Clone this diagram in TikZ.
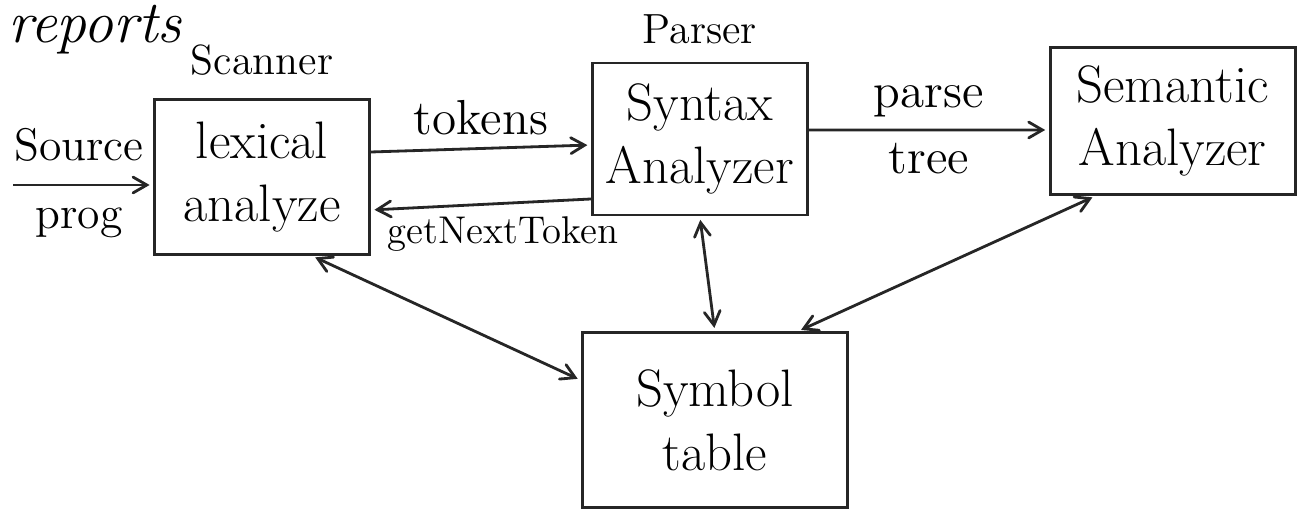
\documentclass[tikz,border=0pt]{standalone}
\usepackage{tikz}
\usetikzlibrary{arrows,positioning}

\begin{document}
\begin{tikzpicture}[->,>=angle 60,shorten >=1pt,thick,draw=black!85,
  phase/.style={rectangle,draw,align=center,font=\fontsize{15}{18}\selectfont},
  tag/.style={font=\fontsize{12}{14}\selectfont},
  lbl/.style={font=\fontsize{14}{16}\selectfont}]

 \useasboundingbox (0,0) rectangle (13,-5.15);

 \node[font=\fontsize{17}{19}\selectfont\itshape] (rep) at (0.95,-0.3) {reports};

 \node[phase,minimum width=2.15cm,minimum height=1.55cm] (lex) at (2.62,-1.77) {lexical\\analyze};
 \node[phase,minimum width=2.15cm,minimum height=1.52cm] (syn) [right=2.2cm of lex,yshift=3.8mm] {Syntax\\Analyzer};
 \node[phase,minimum width=2.45cm,minimum height=1.47cm] (sem) [right=2.4cm of syn,yshift=1.8mm] {Semantic\\Analyzer};
 \node[phase,minimum width=2.65cm,minimum height=1.75cm] (sym) [below=1.15cm of syn,xshift=1.5mm] {Symbol\\table};

 \node[tag] (scan) [above=0.1cm of lex] {Scanner};
 \node[tag] (pars) [above=0.05cm of syn] {Parser};

 \coordinate[left=1.4cm of lex.west,yshift=-0.8mm] (src);

 \draw (src) -- node[pos=0.47,above=1mm,font=\fontsize{13}{15}\selectfont] {Source} node[pos=0.47,below=1mm,font=\fontsize{13}{15}\selectfont] {prog} ([yshift=-0.8mm]lex.west);
 \draw ([yshift=2.5mm]lex.east) -- node[lbl,above] {tokens} ([yshift=-0.6mm]syn.west);
 \draw ([yshift=-6mm]syn.west) -- node[tag,pos=0.4,below,font=\fontsize{11}{13}\selectfont] {getNextToken} ([yshift=-3.3mm]lex.east);
 \draw ([yshift=0.9mm]syn.east) -- node[lbl,above] {parse} node[lbl,below] {tree} ([yshift=-0.9mm]sem.west);

 \draw[<->,shorten <=1pt] ([xshift=5mm]lex.south) -- ([yshift=4mm]sym.west);
 \draw[<->,shorten <=1pt] (syn.south) -- (sym.north);
 \draw[<->,shorten <=1pt] ([xshift=-7.7mm]sem.south) -- ([xshift=8.3mm]sym.north);

\end{tikzpicture}
\end{document}
